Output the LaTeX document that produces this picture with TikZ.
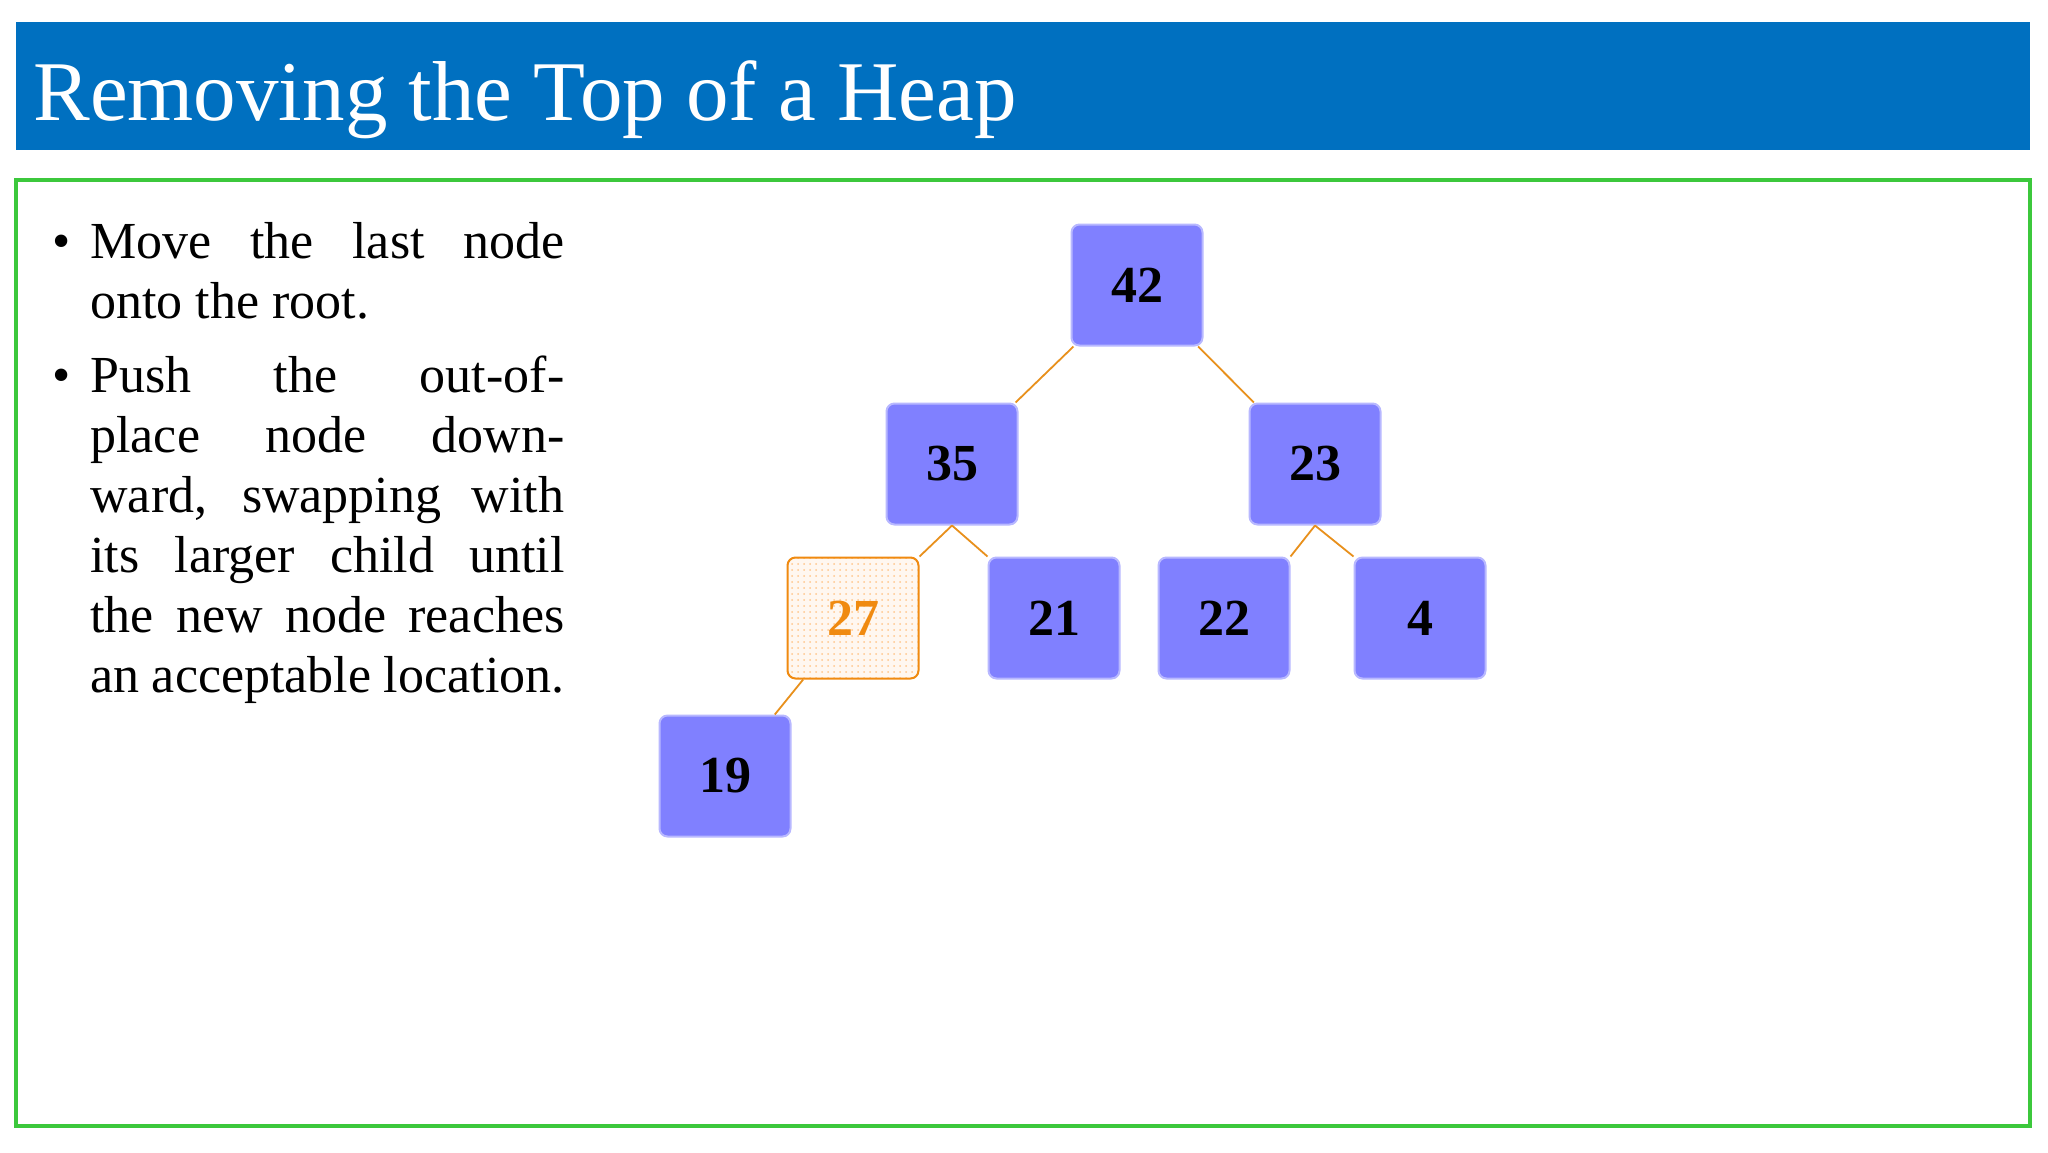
\documentclass[tikz,border=0pt]{standalone}
\usepackage{fontspec}
\setmainfont{Liberation Serif}
\usetikzlibrary{patterns}
\definecolor{titleblue}{HTML}{0070C0}
\definecolor{framegreen}{HTML}{3CC83C}
\definecolor{heapfill}{HTML}{8080FF}
\definecolor{heapedge}{HTML}{B8B8FF}
\definecolor{edgeorange}{HTML}{E8901C}
\definecolor{hotorange}{HTML}{F08A10}
\begin{document}
\begin{tikzpicture}[x=0.5pt,y=-0.5pt,
  heapnode/.style={draw=heapedge,line width=1pt,fill=heapfill,rounded corners=4pt,
    minimum width=65.5pt,minimum height=60.5pt,inner sep=0pt,
    font=\fontsize{26}{30}\selectfont\bfseries},
  movednode/.style={heapnode,draw=hotorange,fill=orange!8,pattern color=orange!45,
    pattern=dots,text=hotorange},
  link/.style={draw=edgeorange,line width=0.9pt}]
\useasboundingbox (0,0) rectangle (2048,1152);
\fill[white] (0,0) rectangle (2048,1152);
\fill[titleblue] (16,22) rectangle (2030,150);
\node[anchor=base west,text=white,inner sep=0pt,font=\fontsize{42.5}{50}\selectfont] (title) at (33,120) {Removing the Top of a Heap};
\draw[framegreen,line width=2pt] (16,180) rectangle (2030,1126);
\node[anchor=north west,inner sep=0pt,text width=256pt,align=justify,
  font=\fontsize{26}{30}\selectfont] (txt) at (52,222) {%
\hangindent=19pt\hangafter=1\makebox[19pt][l]{\textbullet}Move the last node onto the root.\par\vspace{7pt}
\hangindent=19pt\hangafter=1\makebox[19pt][l]{\textbullet}Push the out-of-place node downward, swapping with its larger child until the new node reaches an acceptable location.\par};
\node[heapnode] (n42) at (1137,285) {42};
\node[heapnode] (n35) at (952,464) {35};
\node[heapnode] (n23) at (1315,464) {23};
\node[draw=hotorange,fill=orange!6,rounded corners=4pt,minimum width=65.5pt,minimum height=60.5pt] (bg27) at (853,618) {};
\node[movednode] (n27) at (853,618) {27};
\node[heapnode] (n21) at (1054,618) {21};
\node[heapnode] (n22) at (1224,618) {22};
\node[heapnode] (n4) at (1420,618) {4};
\node[heapnode] (n19) at (725,776) {19};
\draw[link] (n42) -- (n35);
\draw[link] (n42) -- (n23);
\draw[link] (n35.south) -- (n27.north east);
\draw[link] (n35.south) -- (n21.north west);
\draw[link] (n23.south) -- (n22.north east);
\draw[link] (n23.south) -- (n4.north west);
\draw[link] (n27) -- (n19);
\end{tikzpicture}
\end{document}
